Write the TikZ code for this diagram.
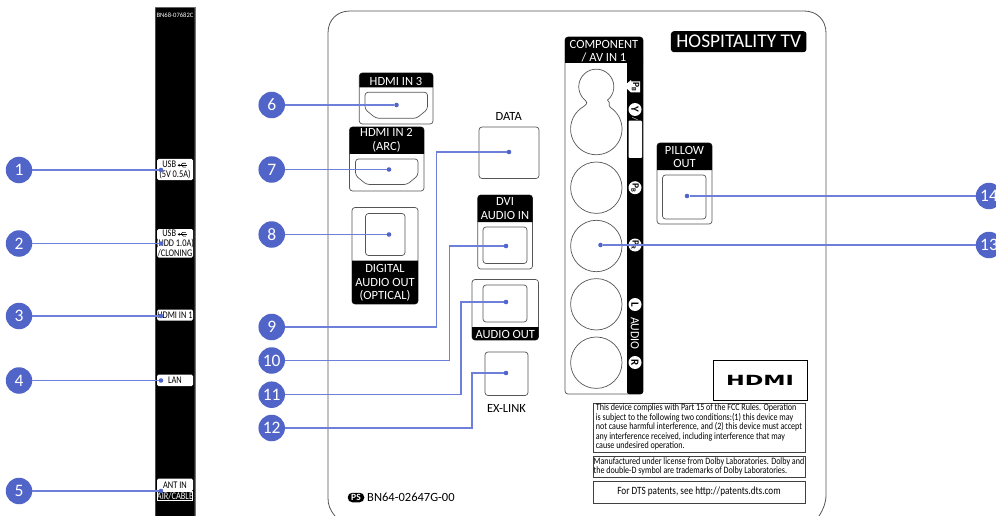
\documentclass[tikz,border=0pt]{standalone}
\usepackage{fontspec}
\setmainfont{Carlito}
\newfontfamily\logofont{DejaVu Sans}
\definecolor{callout}{HTML}{5164C8}
\definecolor{leader}{HTML}{6D7FD8}
\definecolor{edge}{HTML}{555555}
\newcommand{\fz}[1]{\fontsize{#1}{#1}\selectfont}
\newcommand{\headtop}[4]{\fill[black] (#1,#4) [rounded corners=3] -- (#1,#2) -- (#3,#2) [sharp corners] -- (#3,#4) -- cycle;}
\newcommand{\headbot}[4]{\fill[black] (#1,#2) [rounded corners=3] -- (#1,#4) -- (#3,#4) [sharp corners] -- (#3,#2) -- cycle;}
\newcommand{\hdmiport}[4]{\draw[portline,rounded corners=3] (#1,#2) -- (#3,#2) -- (#3,#4-9) -- (#3-11,#4) -- (#1+11,#4) -- (#1,#4-9) -- cycle;}
\newcommand{\usbsym}{\tikz[baseline=0pt,x=1pt,y=1pt,line width=.6pt]{\draw (0,2.5)--(11,2.5);\draw (-.3,2.5)--(1,3.3)--(1,1.7)--cycle;\draw (3,2.5)--(5,4.5)--(9,4.5);\draw (4,2.5)--(6,.7)--(9,.7);}}
\tikzset{
  x=1pt,y=-1pt,
  numcirc/.style={circle,fill=callout,text=white,minimum size=26.5pt,inner sep=0pt,font=\fz{17.5}},
  pdot/.style={circle,fill=callout,minimum size=4.6pt,inner sep=0pt},
  conn/.style={leader,line width=1.4pt},
  portline/.style={edge,line width=.7pt},
  frameline/.style={edge,line width=.7pt,rounded corners=3},
  headtext/.style={text=white,align=center,inner sep=0pt,font=\fz{12.5}},
  darktext/.style={text=black,align=center,inner sep=0pt},
  tagtext/.style={text=black,align=center,inner sep=0pt,xscale=.82,font=\fz{10.2}},
  badge/.style={circle,fill=white,minimum size=13pt,inner sep=0pt,text=black,font=\bfseries\fz{11},rotate=-90},
  legalbox/.style={draw=black!75,line width=.8pt,minimum width=212pt,inner sep=0pt},
  legaltext/.style={inner sep=0pt,align=left,xscale=.83,font=\fz{9.7}}
}
\begin{document}
\begin{tikzpicture}
\useasboundingbox (0,0) rectangle (996,516);
% left strip
\fill[black!55] (154.5,7.5) rectangle (195.5,516);
\fill[black,rounded corners=.5] (155.5,8) rectangle (194.5,516);
\node[text=white,inner sep=0pt,font=\fz{6.6}] (model) at (175,15) {BN68-07682C};
% strip tags
\fill[white,rounded corners=1.5] (157,159) rectangle (193,180);
\node[tagtext] (t1) at (175,170) {USB \usbsym\\[-.5pt](5V 0.5A)};
\fill[white,rounded corners=1.5] (157,229) rectangle (193,257.5);
\node[tagtext] (t2) at (175,243.5) {USB \usbsym\\[-.5pt](HDD 1.0A)\\[-.5pt]/CLONING};
\fill[white,rounded corners=1.5] (157,309.5) rectangle (193,320.5);
\node[tagtext] (t3) at (175,315) {HDMI IN 1};
\fill[white,rounded corners=1.5] (157,374.5) rectangle (193,386);
\node[tagtext] (t4) at (175,380) {LAN};
\fill[white,rounded corners=1.5] (157,478.5) rectangle (193,491);
\draw[white,line width=.5pt] (157.3,491) rectangle (192.7,500.5);
\node[tagtext] (t5) at (175,484.8) {ANT IN};
\node[tagtext,text=white] (t5b) at (175,495.7) {AIR/CABLE};
% panel
\draw[edge,line width=.8pt] (335,516) .. controls (330,510) and (328,505) .. (328,498) -- (328,33) .. controls (328,20) and (337,11) .. (350,11) -- (804,11) .. controls (817,11) and (826,20) .. (826,33) -- (826,495) .. controls (826,503) and (823,510) .. (819,516);
% HDMI IN 3
\draw[frameline] (359.3,73) rectangle (433,124);
\headtop{359.3}{73}{433}{87.5}
\node[headtext] (h3) at (396,81) {HDMI IN 3};
\hdmiport{365}{92.3}{427.5}{118.3}
% HDMI IN 2
\draw[frameline] (349.5,127) rectangle (424,191);
\headtop{349.5}{127}{424}{154}
\node[headtext] (h2) at (386.5,140.5) {HDMI IN 2\\[1pt](ARC)};
\hdmiport{355.5}{159}{418}{184.5}
% digital audio out
\draw[frameline] (352,207.5) rectangle (418,304);
\headbot{352}{260.7}{418}{304}
\draw[frameline] (365.5,213.5) rectangle (405,255.5);
\node[headtext] (dao) at (385,283) {DIGITAL\\[1pt]AUDIO OUT\\[1pt](OPTICAL)};
% data
\node[darktext,font=\fz{12.5}] (datat) at (508.7,116) {DATA};
\draw[frameline] (479,127) rectangle (539,178.5);
% DVI
\draw[frameline] (477.7,195) rectangle (532.5,269);
\headtop{477.7}{195}{532.5}{222}
\node[headtext] (dvi) at (505,208.5) {DVI\\[1pt]AUDIO IN};
\draw[frameline] (483,227) rectangle (527,263.5);
% audio out
\draw[frameline] (472,279.5) rectangle (538.5,340);
\headbot{472}{327}{538.5}{340}
\node[headtext] (aot) at (505.3,334) {AUDIO OUT};
\draw[frameline] (483,285) rectangle (527,322);
% ex-link
\draw[frameline] (485,352) rectangle (528,395.5);
\node[darktext,font=\fz{12.5}] (ext) at (506.5,408) {EX-LINK};
% PS
\node[fill=black,text=white,rounded corners=4.5,inner sep=0pt,minimum width=16.5pt,minimum height=9.5pt,font=\bfseries\fz{9.5}] (ps) at (356,497.5) {PS};
\node[darktext,anchor=west,font=\fz{12.5}] (pn) at (367,497.5) {BN64-02647G-00};
% component
\draw[frameline] (565,37) rectangle (643,394);
\fill[black,rounded corners=2] (627,60) rectangle (643,394);
\headtop{565}{37}{643}{63}
\fill[white,rounded corners=1] (628.5,120.7) rectangle (642,158);
\node[headtext] (comp) at (604,51) {COMPONENT\\[1pt]/ AV IN 1};
\draw[portline,fill=white] plot[domain=130:410,samples=70] ({596.3+17.5*cos(\x)},{86.7+17.5*sin(\x)}) .. controls (611.4,103.3) and (607,105.1) .. (611.04,107.95) -- plot[domain=-55:235,samples=90] ({596.3+25.7*cos(\x)},{129+25.7*sin(\x)}) .. controls (585.6,105.1) and (588.9,103.3) .. (585.05,100.1);
\foreach \cy/\nm in {187.7/ca,246/cb,304.3/cc,362.7/cd}
  \node[circle,draw=edge,line width=.7pt,minimum size=51.4pt,inner sep=0pt] (\nm) at (596.3,\cy) {};
% component side labels
\fill[white] (624,86) -- (631,80) -- (631,81.5) -- (640,81.5) -- (640,92.5) -- (631,92.5) -- cycle;
\node[text=black,rotate=-90,inner sep=0pt,font=\bfseries\fz{9.5}] (pb) at (635.5,87) {P\textsubscript{B}};
\node[badge] (yb) at (635,109.5) {Y};
\node[text=white,rotate=-90,inner sep=0pt,font=\fz{8}] (ys) at (635,119) {/};
\node[badge,font=\bfseries\fz{9.5}] (pr1) at (635,187.7) {P\textsubscript{B}};
\node[badge,font=\bfseries\fz{9.5}] (pr2) at (635,245) {P\textsubscript{R}};
\node[badge] (lb) at (635,304.5) {L};
\node[text=white,rotate=-90,inner sep=0pt,xscale=.95,font=\fz{12.5}] (audio) at (635,333.5) {AUDIO};
\node[badge] (rb) at (635,362.5) {R};
% hospitality
\node[fill=black,text=white,rounded corners=3,minimum width=135.5pt,minimum height=21pt,inner sep=0pt,font=\fz{19.4}] (hosp) at (738.7,41.7) {HOSPITALITY TV};
% pillow
\draw[frameline] (657,143) rectangle (712,224);
\headtop{657}{143}{712}{170}
\node[headtext] (pil) at (684.5,157) {PILLOW\\[1pt]OUT};
\draw[frameline] (662.5,175) rectangle (706,219);
% hdmi logo
\node[draw=black,line width=.8pt,minimum width=94pt,minimum height=39.5pt,inner sep=0pt] (logo) at (760,380.5) {};
\node[inner sep=0pt,xscale=1.6,font=\logofont\bfseries\fz{14}] (logot) at (760,380.5) {HDMI};
% legal
\node[legalbox,minimum height=49pt] (fcc) at (699,427.5) {};
\node[legaltext] (fcct) at (699,427.5) {\begin{tabular}{@{}l@{}}This device complies with Part 15 of the FCC Rules. Operation\\[-.4pt]is subject to the following two conditions:(1) this device may\\[-.4pt]not cause harmful interference, and (2) this device must accept\\[-.4pt]any interference received, including interference that may\\[-.4pt]cause undesired operation.\end{tabular}};
\node[legalbox,minimum height=21pt] (dolby) at (699,467) {};
\node[legaltext] (dolbyt) at (699,467) {\begin{tabular}{@{}l@{}}Manufactured under license from Dolby Laboratories. Dolby and\\[-.4pt]the double-D symbol are trademarks of Dolby Laboratories.\end{tabular}};
\node[legalbox,minimum height=22pt] (dts) at (699,492) {};
\node[legaltext,xscale=1,font=\fz{11.1}] (dtst) at (699,492) {For DTS patents, see http://patents.dts.com};
% callouts
\foreach \n/\t/\cx/\cy in {c1/1/19/170,c2/2/19/243.5,c3/3/19/316,c4/4/19/380.5,c5/5/19/491,c6/6/271.7/105,c7/7/271.7/169.5,c8/8/271.7/234.5,c9/9/271.7/327,c10/10/271.7/360.5,c11/11/271.7/394.7,c12/12/271.7/428,c13/13/989/245,c14/14/989/196}
  \node[numcirc] (\n) at (\cx,\cy) {\t};
\foreach \n/\x/\y in {d1/161/170,d2/161/243.5,d3/161/316,d4/161/380.5,d5/161/491,d6/396.5/105,d7/389/169.5,d8/389/234.5,d9/509/152,d10/506/246,d11/506/302,d12/506/373,d13/600.5/245,d14/687/196}
  \node[pdot] (\n) at (\x,\y) {};
\coordinate (b9a) at (436.5,152);\coordinate (b9b) at (436.5,327);
\coordinate (b10a) at (449.5,246);\coordinate (b10b) at (449.5,360.5);
\coordinate (b11a) at (461,302);\coordinate (b11b) at (461,394.7);
\coordinate (b12a) at (472,373);\coordinate (b12b) at (472,428);
\foreach \a/\b in {c1/d1,c2/d2,c3/d3,c4/d4,c5/d5,c6/d6,c7/d7,c8/d8,c13/d13,c14/d14}
  \draw[conn] (\a) -- (\b);
\draw[conn] (c9) -- (b9b) -- (b9a) -- (d9);
\draw[conn] (c10) -- (b10b) -- (b10a) -- (d10);
\draw[conn] (c11) -- (b11b) -- (b11a) -- (d11);
\draw[conn] (c12) -- (b12b) -- (b12a) -- (d12);
\end{tikzpicture}
\end{document}
